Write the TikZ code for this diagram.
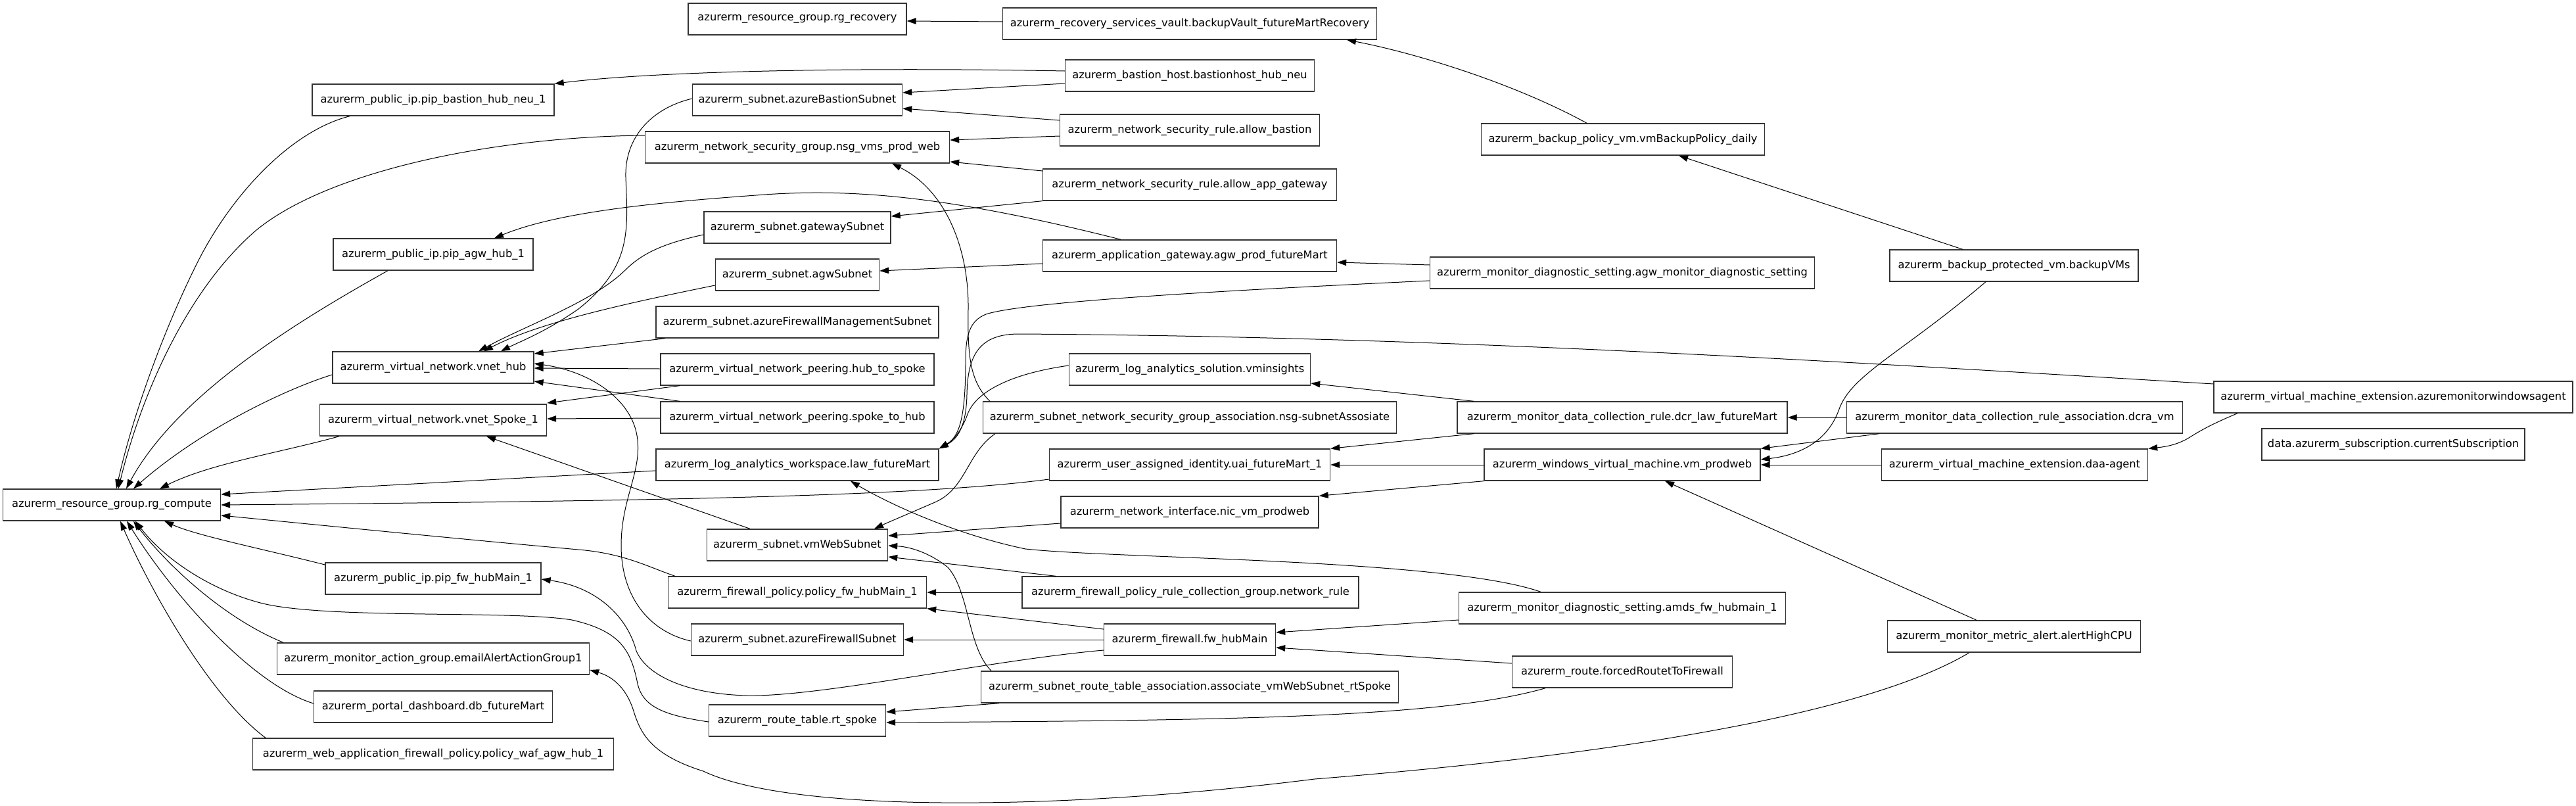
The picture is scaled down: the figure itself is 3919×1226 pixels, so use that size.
\documentclass[tikz,border=0pt]{standalone}
\usepackage{fontspec}
\usetikzlibrary{arrows.meta}
\newfontfamily\dvs{DejaVu Sans}
\begin{document}
\begin{tikzpicture}[x=1pt,y=-1pt,
  box/.style={draw=black!80, line width=1.4pt, fill=white, minimum height=48pt, inner xsep=3pt, inner ysep=0pt, font=\dvs\fontsize{16.3pt}{19pt}\selectfont},
  edge/.style={draw=black, line width=1pt, -{Triangle[length=14pt,width=9.5pt]}}]
\fill[white] (0,0) rectangle (3919,1226);
\useasboundingbox (0,0) rectangle (3919,1226);
% rank 0
\node[box, minimum width=331pt] (rg) at (170,768) {azurerm\_resource\_group.rg\_compute};
% rank 1
\node[box, minimum width=368pt] (pipbas) at (659,152) {azurerm\_public\_ip.pip\_bastion\_hub\_neu\_1};
\node[box, minimum width=304pt] (pipagw) at (659,387) {azurerm\_public\_ip.pip\_agw\_hub\_1};
\node[box, minimum width=306pt] (vnethub) at (659,559) {azurerm\_virtual\_network.vnet\_hub};
\node[box, minimum width=345pt] (vnetspoke) at (659,639) {azurerm\_virtual\_network.vnet\_Spoke\_1};
\node[box, minimum width=328pt] (pipfw) at (659,880) {azurerm\_public\_ip.pip\_fw\_hubMain\_1};
\node[box, minimum width=475pt] (email) at (659,1002) {azurerm\_monitor\_action\_group.emailAlertActionGroup1};
\node[box, minimum width=363pt] (db) at (659,1075) {azurerm\_portal\_dashboard.db\_futureMart};
\node[box, minimum width=549pt] (waf) at (659,1147) {azurerm\_web\_application\_firewall\_policy.policy\_waf\_agw\_hub\_1};
% rank 2
\node[box, minimum width=332pt] (rgrec) at (1213,29) {azurerm\_resource\_group.rg\_recovery};
\node[box, minimum width=319pt] (basnet) at (1213,152) {azurerm\_subnet.azureBastionSubnet};
\node[box, minimum width=463pt] (nsg) at (1213,224) {azurerm\_network\_security\_group.nsg\_vms\_prod\_web};
\node[box, minimum width=284pt] (gwnet) at (1213,346) {azurerm\_subnet.gatewaySubnet};
\node[box, minimum width=249pt] (agwnet) at (1213,418) {azurerm\_subnet.agwSubnet};
\node[box, minimum width=430pt] (fwmgmt) at (1213,490) {azurerm\_subnet.azureFirewallManagementSubnet};
\node[box, minimum width=416pt] (h2s) at (1213,562) {azurerm\_virtual\_network\_peering.hub\_to\_spoke};
\node[box, minimum width=416pt] (s2h) at (1213,635) {azurerm\_virtual\_network\_peering.spoke\_to\_hub};
\node[box, minimum width=430pt] (law) at (1213,707) {azurerm\_log\_analytics\_workspace.law\_futureMart};
\node[box, minimum width=275pt] (vmweb) at (1213,829) {azurerm\_subnet.vmWebSubnet};
\node[box, minimum width=393pt] (polfw) at (1213,901) {azurerm\_firewall\_policy.policy\_fw\_hubMain\_1};
\node[box, minimum width=323pt] (fwsub) at (1213,973) {azurerm\_subnet.azureFirewallSubnet};
\node[box, minimum width=269pt] (rt) at (1213,1096) {azurerm\_route\_table.rt\_spoke};
% rank 3
\node[box, minimum width=569pt] (vault) at (1810,36) {azurerm\_recovery\_services\_vault.backupVault\_futureMartRecovery};
\node[box, minimum width=379pt] (bastion) at (1810,115) {azurerm\_bastion\_host.bastionhost\_hub\_neu};
\node[box, minimum width=395pt] (allowbas) at (1810,198) {azurerm\_network\_security\_rule.allow\_bastion};
\node[box, minimum width=447pt] (allowagw) at (1810,281) {azurerm\_network\_security\_rule.allow\_app\_gateway};
\node[box, minimum width=447pt] (agw) at (1810,389) {azurerm\_application\_gateway.agw\_prod\_futureMart};
\node[box, minimum width=367pt] (vmins) at (1810,562) {azurerm\_log\_analytics\_solution.vminsights};
\node[box, minimum width=629pt] (nsgassoc) at (1810,635) {azurerm\_subnet\_network\_security\_group\_association.nsg-subnetAssosiate};
\node[box, minimum width=427pt] (uai) at (1810,707) {azurerm\_user\_assigned\_identity.uai\_futureMart\_1};
\node[box, minimum width=392pt] (nic) at (1810,779) {azurerm\_network\_interface.nic\_vm\_prodweb};
\node[box, minimum width=512pt] (netrule) at (1811,901) {azurerm\_firewall\_policy\_rule\_collection\_group.network\_rule};
\node[box, minimum width=261pt] (fw) at (1810,973) {azurerm\_firewall.fw\_hubMain};
\node[box, minimum width=635pt] (assoc) at (1810,1045) {azurerm\_subnet\_route\_table\_association.associate\_vmWebSubnet\_rtSpoke};
% rank 4
\node[box, minimum width=431pt] (bpol) at (2469,212) {azurerm\_backup\_policy\_vm.vmBackupPolicy\_daily};
\node[box, minimum width=585pt] (agwdiag) at (2468,415) {azurerm\_monitor\_diagnostic\_setting.agw\_monitor\_diagnostic\_setting};
\node[box, minimum width=502pt] (dcr) at (2468,635) {azurerm\_monitor\_data\_collection\_rule.dcr\_law\_futureMart};
\node[box, minimum width=420pt] (vm) at (2468,707) {azurerm\_windows\_virtual\_machine.vm\_prodweb};
\node[box, minimum width=497pt] (amds) at (2468,925) {azurerm\_monitor\_diagnostic\_setting.amds\_fw\_hubmain\_1};
\node[box, minimum width=335pt] (froute) at (2468,1022) {azurerm\_route.forcedRoutetToFirewall};
% rank 5
\node[box, minimum width=378pt] (bvms) at (3064,404) {azurerm\_backup\_protected\_vm.backupVMs};
\node[box, minimum width=511pt] (dcra) at (3065,635) {azurerm\_monitor\_data\_collection\_rule\_association.dcra\_vm};
\node[box, minimum width=405pt] (daa) at (3065,707) {azurerm\_virtual\_machine\_extension.daa-agent};
\node[box, minimum width=385pt] (alert) at (3064,968) {azurerm\_monitor\_metric\_alert.alertHighCPU};
% rank 6
\node[box, minimum width=546pt] (ama) at (3641,604) {azurerm\_virtual\_machine\_extension.azuremonitorwindowsagent};
\node[box, minimum width=400pt] (sub) at (3641,676) {data.azurerm\_subscription.currentSubscription};

% edges
\draw[edge] (vault.west |- 0,33) -- (rgrec.east |- 0,32);
\draw[edge] (bpol.north -| 2414,0) .. controls (2300,125) and (2150,80) .. (vault.south -| 2049,0);
\draw[edge] (bvms.north -| 2986,0) -- (bpol.south -| 2554,0);
\draw[edge] (bastion.west |- 0,108) .. controls (1300,102) and (1000,108) .. (pipbas.north east);
\draw[edge] (bastion.west |- 0,127) -- (basnet.east |- 0,141);
\draw[edge] (allowbas.west |- 0,183) -- (basnet.east |- 0,165);
\draw[edge] (allowbas.west |- 0,207) -- (nsg.east |- 0,213);
\draw[edge] (allowagw.west |- 0,260) -- (nsg.east |- 0,246);
\draw[edge] (allowagw.south west) -- (gwnet.east |- 0,329);
\draw[edge] (agw.north -| 1705,0) .. controls (1450,300) and (1300,285) .. (1150,297) .. controls (1000,308) and (850,322) .. (pipagw.north -| 752,0);
\draw[edge] (agw.west |- 0,401) -- (agwnet.east |- 0,412);
\draw[edge] (agwdiag.west |- 0,403) -- (agw.east |- 0,399);
\draw[edge] (agwdiag.west |- 0,427) .. controls (1900,440) and (1560,458) .. (1500,478) .. controls (1475,488) and (1469,510) .. (1469,550) .. controls (1469,640) and (1458,665) .. (law.north east);
\draw[edge] (ama.west |- 0,584) .. controls (2800,550) and (2200,512) .. (1550,508) .. controls (1490,508) and (1472,540) .. (1471,600) .. controls (1470,650) and (1456,668) .. (law.north east);
\draw[edge] (vmins.west |- 0,556) .. controls (1540,568) and (1485,595) .. (1472,630) .. controls (1463,655) and (1450,670) .. (law.north east);
\draw[edge] (nsgassoc.north -| 1506,0) .. controls (1475,580) and (1472,540) .. (1473,470) .. controls (1474,380) and (1440,290) .. (nsg.south -| 1357,0);
\draw[edge] (nsgassoc.south -| 1514,0) .. controls (1470,690) and (1470,745) .. (1420,765) .. controls (1390,778) and (1350,795) .. (vmweb.north -| 1330,0);
\draw[edge] (dcr.north -| 2242,0) -- (vmins.east |- 0,583);
\draw[edge] (dcr.south -| 2242,0) -- (uai.north east);
\draw[edge] (dcra.west |- 0,635) -- (dcr.east |- 0,635);
\draw[edge] (dcra.south -| 2859,0) -- (vm.north east);
\draw[edge] (vm.west |- 0,707) -- (uai.east |- 0,707);
\draw[edge] (vm.south west) -- (nic.north east);
\draw[edge] (daa.west |- 0,707) -- (vm.east |- 0,707);
\draw[edge] (bvms.south -| 3021,0) .. controls (2890,540) and (2815,570) .. (2797,625) .. controls (2780,670) and (2740,692) .. (vm.east |- 0,699);
\draw[edge] (ama.south -| 3404,0) .. controls (3370,643) and (3352,652) .. (3330,666) .. controls (3310,678) and (3290,680) .. (daa.north east);
\draw[edge] (alert.north -| 3007,0) -- (vm.south -| 2533,0);
\draw[edge] (nic.west |- 0,796) -- (vmweb.east |- 0,815);
\draw[edge] (assoc.north -| 1508,0) .. controls (1472,985) and (1475,900) .. (1442,863) .. controls (1420,845) and (1390,832) .. (vmweb.east |- 0,830);
\draw[edge] (netrule.north -| 1606,0) -- (vmweb.east |- 0,847);
\draw[edge] (netrule.west |- 0,901) -- (polfw.east |- 0,901);
\draw[edge] (fw.west |- 0,957) -- (polfw.south east);
\draw[edge] (fw.west |- 0,973) -- (fwsub.east |- 0,973);
\draw[edge] (amds.west |- 0,943) -- (fw.east |- 0,962);
\draw[edge] (froute.west |- 0,1009) -- (fw.east |- 0,985);
\draw[edge] (amds.north -| 2344,0) .. controls (2200,850) and (1700,850) .. (1560,835) .. controls (1450,812) and (1350,765) .. (law.south -| 1294,0);
\draw[edge] (assoc.south -| 1520,0) -- (rt.east |- 0,1083);
\draw[edge] (froute.south -| 2351,0) .. controls (2200,1090) and (1900,1096) .. (rt.east |- 0,1099);
\draw[edge] (alert.south -| 2996,0) .. controls (2850,1080) and (2500,1145) .. (2000,1185) .. controls (1600,1235) and (1200,1235) .. (1070,1173) .. controls (990,1148) and (975,1115) .. (965,1085) .. controls (955,1050) and (935,1030) .. (email.east |- 0,1019);
% to rg_compute
\draw[edge] (pipbas.south -| 532,0) .. controls (440,200) and (350,300) .. (300,400) .. controls (245,510) and (200,640) .. (rg.north -| 177,0);
\draw[edge] (nsg.west |- 0,206) .. controls (750,208) and (500,260) .. (390,350) .. controls (285,440) and (215,600) .. (rg.north -| 180,0);
\draw[edge] (pipagw.south -| 590,0) .. controls (450,490) and (270,600) .. (rg.north -| 192,0);
\draw[edge] (vnethub.west |- 0,570) .. controls (440,590) and (310,650) .. (rg.north -| 203,0);
\draw[edge] (vnetspoke.south -| 516,0) .. controls (420,690) and (320,705) .. (rg.north -| 243,0);
\draw[edge] (law.west |- 0,716) -- (rg.east |- 0,752);
\draw[edge] (uai.west |- 0,729) .. controls (1400,755) and (1000,762) .. (rg.east |- 0,768);
\draw[edge] (polfw.north -| 1027,0) .. controls (985,862) and (950,842) .. (880,836) .. controls (700,820) and (500,800) .. (rg.east |- 0,784);
\draw[edge] (pipfw.west |- 0,859) .. controls (400,835) and (300,815) .. (rg.south -| 250,0);
\draw[edge] (email.north -| 431,0) .. controls (340,940) and (255,860) .. (rg.south -| 203,0);
\draw[edge] (db.west |- 0,1070) .. controls (380,1040) and (260,900) .. (rg.south -| 193,0);
\draw[edge] (waf.north -| 404,0) .. controls (320,1060) and (230,900) .. (rg.south -| 183,0);
\draw[edge] (rt.west |- 0,1098) .. controls (1010,1088) and (978,1075) .. (970,1040) .. controls (960,990) and (945,960) .. (870,943) .. controls (780,928) and (500,942) .. (400,918) .. controls (320,898) and (250,850) .. (rg.south -| 206,0);
% to vnet_hub / vnet_Spoke_1
\draw[edge] (basnet.west |- 0,150) .. controls (990,165) and (950,210) .. (952,270) .. controls (955,350) and (962,405) .. (880,470) .. controls (830,505) and (790,520) .. (vnethub.north -| 762,0);
\draw[edge] (gwnet.west |- 0,357) .. controls (1000,372) and (972,390) .. (950,412) .. controls (900,460) and (800,495) .. (vnethub.north -| 728,0);
\draw[edge] (agwnet.west |- 0,434) .. controls (960,460) and (820,490) .. (vnethub.north -| 736,0);
\draw[edge] (fwmgmt.south -| 1012,0) -- (vnethub.east |- 0,538);
\draw[edge] (h2s.west |- 0,561) -- (vnethub.east |- 0,560);
\draw[edge] (s2h.north -| 1034,0) -- (vnethub.east |- 0,580);
\draw[edge] (fwsub.west |- 0,975) .. controls (985,960) and (945,905) .. (945,830) .. controls (945,760) and (975,720) .. (970,670) .. controls (965,610) and (900,565) .. (vnethub.east |- 0,553);
\draw[edge] (h2s.south -| 1034,0) -- (vnetspoke.east |- 0,613);
\draw[edge] (s2h.west |- 0,636) -- (vnetspoke.east |- 0,637);
\draw[edge] (vmweb.north -| 1141,0) -- (vnetspoke.south -| 740,0);
\draw[edge] (fw.west |- 0,989) .. controls (1500,1005) and (1250,1060) .. (1137,1058) .. controls (1050,1056) and (985,1030) .. (968,990) .. controls (955,940) and (910,893) .. (pipfw.east |- 0,881);
\end{tikzpicture}
\end{document}
